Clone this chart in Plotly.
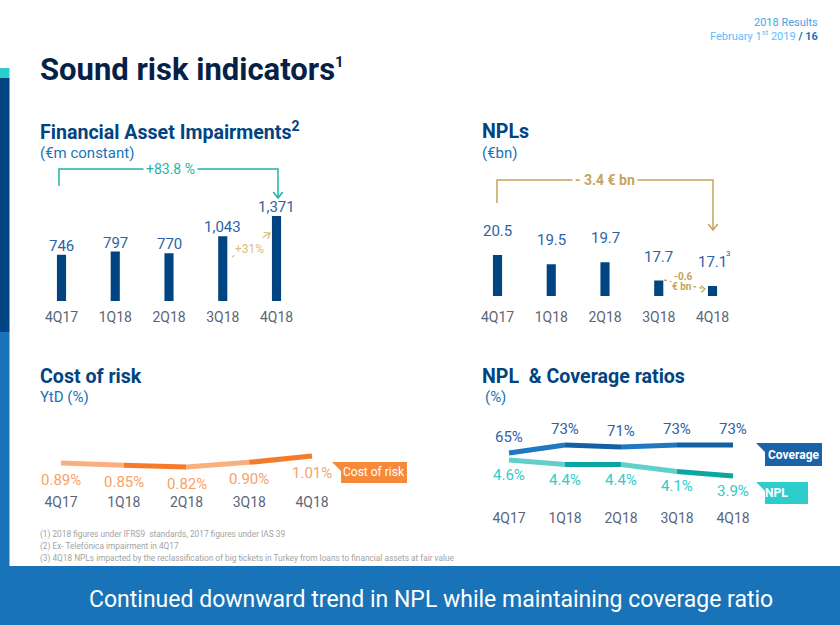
import math
import plotly.graph_objects as go

# ---------------- data ----------------
quarters = ["4Q17", "1Q18", "2Q18", "3Q18", "4Q18"]

impairments = [746, 797, 770, 1043, 1371]
impairment_labels = ["746", "797", "770", "1,043", "1,371"]

npl_stock = [20.5, 19.5, 19.7, 17.7, 17.1]
npl_stock_labels = ["20.5", "19.5", "19.7", "17.7", "17.1"]

cost_of_risk = [0.89, 0.85, 0.82, 0.90, 1.01]
cost_of_risk_labels = ["0.89%", "0.85%", "0.82%", "0.90%", "1.01%"]

coverage_ratio = [65, 73, 71, 73, 73]
coverage_labels = ["65%", "73%", "71%", "73%", "73%"]

npl_ratio = [4.6, 4.4, 4.4, 4.1, 3.9]
npl_ratio_labels = ["4.6%", "4.4%", "4.4%", "4.1%", "3.9%"]

footnotes = [
    "(1) 2018 figures under IFRS9  standards, 2017 figures under IAS 39",
    "(2) Ex- Telefónica impairment in 4Q17",
    "(3) 4Q18 NPLs impacted by the reclassification of big tickets in Turkey from loans to financial assets at fair value",
]

# ---------------- style ----------------
W, H = 840, 625
F = "Roboto, 'Open Sans', sans-serif"
NAVY_DARK = "#072146"
BLUE = "#004481"
CORE = "#1973B8"
VAL_BLUE = "#2D62A6"
GRAY = "#5B6577"
AQUA = "#2DCCCD"
TEAL_BR = "#1FB3A4"
GOLD = "#C6A35A"
GOLD_LIGHT = "#DCC07C"
OR_LIGHT = "#F9B07E"
OR_DARK = "#F47B2C"
OR_LABEL = "#F8A267"
COV_A = "#1E78C2"
COV_B = "#155FA4"
NPL_A = "#62CFCB"
NPL_B = "#0AA6A1"


def fx(x):
    return x / W


def fy(y):
    return 1 - y / H


def xdom(first, last, n=5):
    step = (last - first) / (n - 1)
    return [fx(first - step / 2), fx(last + step / 2)]


def yrange(v0, p0, k, ptop, pbot):
    return [v0 - (pbot - p0) / k, v0 + (p0 - ptop) / k]


def path(points, close=False):
    s = "M " + " L ".join(f"{fx(x):.5f},{fy(y):.5f}" for x, y in points)
    return s + (" Z" if close else "")


fig = go.Figure()

# ---- panel 1: Financial Asset Impairments ----
fig.add_trace(go.Bar(x=quarters, y=impairments, width=0.17, marker=dict(color=BLUE, line=dict(width=0)),
                     xaxis="x", yaxis="y", hoverinfo="skip"))
# ---- panel 2: NPLs ----
fig.add_trace(go.Bar(x=quarters, y=npl_stock, width=0.17, marker=dict(color=BLUE, line=dict(width=0)),
                     xaxis="x2", yaxis="y2", hoverinfo="skip"))
# ---- panel 3: Cost of risk ----
for i in range(len(quarters) - 1):
    fig.add_trace(go.Scatter(x=quarters[i:i + 2], y=cost_of_risk[i:i + 2], mode="lines",
                             line=dict(color=[OR_LIGHT, OR_DARK][i % 2], width=5),
                             xaxis="x3", yaxis="y3", hoverinfo="skip"))
# ---- panel 4: NPL & Coverage ----
for i in range(len(quarters) - 1):
    fig.add_trace(go.Scatter(x=quarters[i:i + 2], y=coverage_ratio[i:i + 2], mode="lines",
                             line=dict(color=[COV_A, COV_B][i % 2], width=5),
                             xaxis="x4", yaxis="y4", hoverinfo="skip"))
    fig.add_trace(go.Scatter(x=quarters[i:i + 2], y=npl_ratio[i:i + 2], mode="lines",
                             line=dict(color=[NPL_A, NPL_B][i % 2], width=5),
                             xaxis="x4", yaxis="y5", hoverinfo="skip"))


def xaxis(dom, anchor, standoff, visible=True):
    return dict(domain=dom, anchor=anchor, type="category", categoryorder="array",
                categoryarray=quarters, range=[-0.5, 4.5], showgrid=False, zeroline=False,
                showline=False, ticks="", ticklabelstandoff=standoff, visible=visible,
                tickfont=dict(family=F, size=14, color=GRAY), fixedrange=True)


def yaxis(dom, anchor, rng, **kw):
    d = dict(domain=dom, anchor=anchor, range=rng, visible=False, showgrid=False,
             zeroline=False, fixedrange=True)
    d.update(kw)
    return d


layout = dict(
    width=W, height=H, margin=dict(l=0, r=0, t=0, b=0),
    paper_bgcolor="white", plot_bgcolor="rgba(0,0,0,0)", showlegend=False,
    xaxis=xaxis(xdom(61.5, 276.5), "y", 6),
    yaxis=yaxis([fy(301), fy(190)], "x", yrange(0, 301, 0.062, 190, 301)),
    xaxis2=xaxis(xdom(497.5, 712.5), "y2", 11),
    yaxis2=yaxis([fy(296), fy(240)], "x2", yrange(16, 296, 9.1, 240, 296)),
    xaxis3=xaxis(xdom(61, 312), "y3", 2),
    yaxis3=yaxis([fy(490), fy(430)], "x3", yrange(0.82, 467, 58, 430, 490)),
    xaxis4=xaxis(xdom(509, 733), "y4", 3),
    yaxis4=yaxis([fy(505), fy(415)], "x4", yrange(71, 447, 1.0, 415, 505)),
    yaxis5=yaxis([fy(505), fy(415)], "x4", yrange(4.6, 460, 22.9, 415, 505), overlaying="y4"),
)
fig.update_layout(**layout)

ann = []


def A(text, x, y, size, color, xanchor="center", **kw):
    d = dict(text=text, x=fx(x), y=fy(y), xref="paper", yref="paper", showarrow=False,
             xanchor=xanchor, yanchor="middle", font=dict(family=F, size=size, color=color))
    d.update(kw)
    ann.append(d)


# value labels (data coordinates)
for q, v, t in zip(quarters, impairments, impairment_labels):
    ann.append(dict(text=t, x=q, y=v, xref="x", yref="y", yshift=9, showarrow=False,
                    yanchor="middle", font=dict(family=F, size=15, color=VAL_BLUE)))
for q, v, t in zip(quarters, npl_stock, npl_stock_labels):
    ann.append(dict(text=t, x=q, y=v, xref="x2", yref="y2", yshift=24, showarrow=False,
                    yanchor="middle", font=dict(family=F, size=15, color=VAL_BLUE)))
ann.append(dict(text="3", x=quarters[-1], y=npl_stock[-1], xref="x2", yref="y2", xshift=16, yshift=32,
                showarrow=False, yanchor="middle", font=dict(family=F, size=8, color=VAL_BLUE)))
for q, v, t in zip(quarters, cost_of_risk, cost_of_risk_labels):
    ann.append(dict(text=t, x=q, y=v, xref="x3", yref="y3", yshift=-17, showarrow=False,
                    yanchor="middle", font=dict(family=F, size=15, color=OR_LABEL)))
for q, v, t in zip(quarters, coverage_ratio, coverage_labels):
    ann.append(dict(text=t, x=q, y=v, xref="x4", yref="y4", yshift=16, showarrow=False,
                    yanchor="middle", font=dict(family=F, size=15, color=VAL_BLUE)))
for q, v, t in zip(quarters, npl_ratio, npl_ratio_labels):
    ann.append(dict(text=t, x=q, y=v, xref="x4", yref="y5", yshift=-15, showarrow=False,
                    yanchor="middle", font=dict(family=F, size=15, color=AQUA)))

# header texts
A("2018 Results", 820, 22, 11, "#4AA3E3", xanchor="right")
A("February 1<sup>st</sup> 2019 <span style='color:#1973B8'><b>/ 16</b></span>", 820, 35, 11, "#5BBEFF",
  xanchor="right")
A("<b>Sound risk indicators</b><sup><span style='font-size:15px'><b>1</b></span></sup>", 38, 69, 31,
  NAVY_DARK, xanchor="left")
A("<b>Financial Asset Impairments<sup><span style='font-size:14px'>2</span></sup></b>", 38, 131, 19.6, BLUE,
  xanchor="left")
A("(€m constant)", 38, 153, 15, CORE, xanchor="left")
A("<b>NPLs</b>", 480, 131, 19.6, BLUE, xanchor="left")
A("(€bn)", 480, 153, 15, CORE, xanchor="left")
A("<b>Cost of risk</b>", 38, 376, 19.6, BLUE, xanchor="left")
A("YtD (%)", 38, 397, 15, CORE, xanchor="left")
A("<b>NPL  & Coverage ratios</b>", 480, 376, 19.6, BLUE, xanchor="left")
A("(%)", 483, 397, 15, CORE, xanchor="left")

# bracket texts
A("+83.8 %", 170, 169, 14, TEAL_BR, bgcolor="white", borderpad=2)
A("<b>- 3.4 € bn</b>", 605, 180, 14, GOLD, bgcolor="white", borderpad=2)
A("+31%", 249, 249, 12, GOLD_LIGHT, bgcolor="white", borderpad=0)
A("<b>-0.6</b>", 683, 276, 10, GOLD, bgcolor="white", borderpad=0)
A("<b>€ bn</b>", 682, 286, 10, GOLD, bgcolor="white", borderpad=0)

# tags text
A("Cost of risk", 374, 472, 12, "white")
A("<b>Coverage</b>", 793, 455, 12, "white")
A("<b>NPL</b>", 776, 493, 12, "white")

# footnotes
for i, t in enumerate(footnotes):
    A(t, 38, 534 + 12 * i, 8.3, "#A3A3A3", xanchor="left")

# banner
A("Continued downward trend in NPL while maintaining coverage ratio", 431, 599, 23, "white")

shapes = []


def rect(x0, y0, x1, y1, color):
    shapes.append(dict(type="rect", xref="paper", yref="paper", x0=fx(x0), x1=fx(x1), y0=fy(y1), y1=fy(y0),
                       fillcolor=color, line=dict(width=0), layer="below"))


def poly(points, color):
    shapes.append(dict(type="path", xref="paper", yref="paper", path=path(points, True),
                       fillcolor=color, line=dict(width=0), layer="below"))


def line(points, color, width=1.5, dash="solid"):
    shapes.append(dict(type="path", xref="paper", yref="paper", path=path(points),
                       line=dict(color=color, width=width, dash=dash), layer="below"))


def chevron(x0, y0, x1, y1, color, size=6, width=1.5):
    dx, dy = x1 - x0, y1 - y0
    L = math.hypot(dx, dy)
    ux, uy = dx / L, dy / L
    px_, py_ = -uy, ux
    a = (x1 - ux * size + px_ * size * 0.8, y1 - uy * size + py_ * size * 0.8)
    b = (x1 - ux * size - px_ * size * 0.8, y1 - uy * size - py_ * size * 0.8)
    line([a, (x1, y1), b], color, width)


# left strip & banner
rect(0, 68, 9.5, 78, AQUA)
rect(0, 78, 9.5, 332, BLUE)
rect(0, 332, 9.5, 566, CORE)
rect(0, 566, 840, 625, CORE)

# +83.8% bracket
line([(59, 186), (59, 169), (278, 169), (278, 198)], TEAL_BR)
chevron(278, 169, 278, 198, TEAL_BR)
# -3.4 bn bracket
line([(497, 203), (497, 180), (713, 180), (713, 230)], GOLD)
chevron(713, 180, 713, 230, GOLD)
# +31% dashed arrow
line([(232, 257), (270, 233)], GOLD_LIGHT, 1.3, "dash")
chevron(232, 257, 270, 233, GOLD_LIGHT, 5, 1.3)
# -0.6 bn dashed arrow
line([(664, 280), (705, 289)], GOLD, 1.3, "dot")
chevron(693, 289, 705, 289, GOLD, 4, 1.3)

# tags
poly([(332, 462), (407, 462), (407, 483), (341, 483), (341, 471)], "#F7893B")
poly([(756, 443), (822, 443), (822, 466), (765, 466), (765, 452)], "#1A63A9")
poly([(756, 482), (808, 482), (808, 504), (765, 504), (765, 491)], AQUA)

fig.update_layout(annotations=ann, shapes=shapes)
fig.write_html("out.html", config={"displayModeBar": False},
               post_script="document.body.style.margin='0';document.body.style.padding='0';")
